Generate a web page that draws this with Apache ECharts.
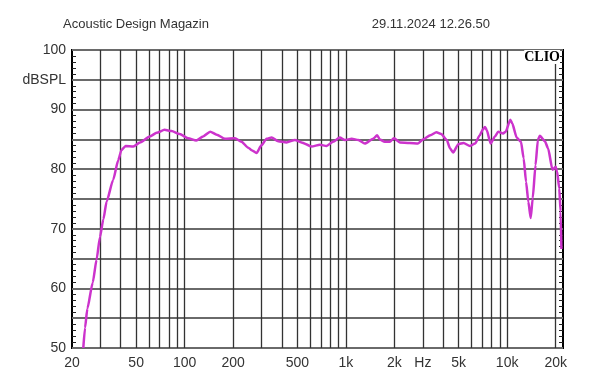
<!DOCTYPE html>
<html><head><meta charset="utf-8">
<script src="https://cdn.jsdelivr.net/npm/echarts@6/dist/echarts.min.js"></script>
<style>html,body{margin:0;padding:0;background:#fff}#c{width:600px;height:384px}</style>
</head><body><div id="c"></div>
<script>
const freqs = [23.5,24.1,24.9,26.9,28.4,29.8,31.3,32.8,36,38.7,40.5,43,48,52.8,60.8,67,75,83,93,105,118,130,144,158,178,205,225,248,260,279,299,322,346,380,428,483,530,612,690,758,832,916,985,1086,1194,1310,1476,1562,1620,1740,1872,1984,2160,2480,2800,3010,3340,3640,3900,4220,4420,4620,4980,5360,5880,6320,6770,7050,7280,7460,7900,8400,8800,9440,9800,10460,10750,11460,12180,12660,13100,13540,14000,14400,15000,15500,15940,17140,17940,19100,20000,20400,21040,21450,21700];
const spl = [50,53.4,56.6,61.0,64.8,68.6,71.6,74.6,78.2,81.5,83.2,83.9,83.8,84.5,85.5,86.1,86.6,86.4,85.9,85.2,84.8,85.5,86.3,85.8,85.1,85.2,84.6,83.6,83.2,82.7,84.0,85.1,85.3,84.7,84.5,84.9,84.5,83.8,84.1,83.9,84.6,85.3,84.9,85.1,84.9,84.3,85.1,85.7,85.0,84.6,84.6,85.2,84.5,84.4,84.3,85.0,85.7,86.2,85.9,84.9,83.5,82.8,84.2,84.4,83.9,84.3,85.7,86.6,87.1,86.6,84.3,85.5,86.3,86.0,86.3,88.3,87.7,85.3,84.6,81.8,77.9,74.5,71.8,75.1,80.7,84.9,85.6,84.7,83.5,79.9,80.4,79.6,76.8,72.9,66.6];
const gridFreqs = [20,30,40,50,60,70,80,90,100,200,300,400,500,600,700,800,900,1000,2000,3000,4000,5000,6000,7000,8000,9000,10000,20000];
const xTickLabels = {20:'20',50:'50',100:'100',200:'200',500:'500',1000:'1k',2000:'2k',3000:'Hz',5000:'5k',10000:'10k',20000:'20k'};
const yTickLabels = {50:'50',60:'60',70:'70',80:'80',90:'90',95:'dBSPL',100:'100'};
const titleText = 'Acoustic Design Magazin';
const dateText = '29.11.2024 12.26.50';
const brandText = 'CLIO';

const FONT = '"Liberation Sans", Arial, sans-serif';
const chart = echarts.init(document.getElementById('c'), null, {renderer:'canvas'});
const vLines = gridFreqs.map(f => ({
  xAxis: f,
  lineStyle: f === 20 ? {color: 'rgba(0,0,0,0)'} : undefined,
  label: {show: xTickLabels[f] !== undefined, formatter: xTickLabels[f] || ''}
}));
const minorTick = {show: true, splitNumber: 5, length: 4, lineStyle: {color: '#222', width: 1}};
chart.setOption({
  animation: false,
  backgroundColor: '#fff',
  grid: {left: 72, right: 37, top: 50, bottom: 36, show: true, borderColor: '#000', borderWidth: 2, backgroundColor: 'transparent'},
  xAxis: {type: 'log', logBase: 10, min: 20, max: 22200,
    axisLine: {show: false}, axisTick: {show: false}, axisLabel: {show: false}, splitLine: {show: false}, minorSplitLine: {show: false}},
  yAxis: [{type: 'value', min: 50, max: 100, interval: 5,
    axisLine: {show: false},
    axisTick: {show: false, inside: true},
    minorTick: minorTick,
    axisLabel: {show: true, inside: false, margin: 6, color: '#333', fontSize: 14, fontFamily: FONT,
      formatter: v => yTickLabels[v] || ''},
    splitLine: {show: true, lineStyle: {color: '#6a6a6a', width: 2}}},
    {type: 'value', min: 50, max: 100, interval: 5, position: 'right',
    axisLine: {show: false}, axisTick: {show: false, inside: true}, axisLabel: {show: false}, splitLine: {show: false},
    minorTick: minorTick}],
  graphic: [
    {type: 'text', left: 63, top: 18, style: {text: titleText, fill: '#333', font: '13px ' + FONT}},
    {type: 'text', right: 110, top: 18, style: {text: dateText, fill: '#333', font: '13px ' + FONT}},
    {type: 'text', right: 40, top: 50, z: 10, style: {text: brandText, fill: '#000', font: 'bold 14px "Liberation Serif", "DejaVu Serif", serif', backgroundColor: '#fff'}}
  ],
  series: [
    {type: 'line', data: [], z: 1, silent: true,
      markLine: {silent: true, symbol: 'none', animation: false,
        lineStyle: {color: '#333', width: 1.3, type: 'solid'},
        label: {position: 'start', distance: 8, color: '#333', fontSize: 14, fontFamily: FONT},
        data: vLines}},
    {type: 'line', z: 5, data: freqs.map((f, i) => [f, spl[i]]), showSymbol: false, smooth: 0.2, smoothMonotone: 'x',
      lineStyle: {color: '#cc33cc', width: 2.5}}
  ]
});
</script></body></html>
